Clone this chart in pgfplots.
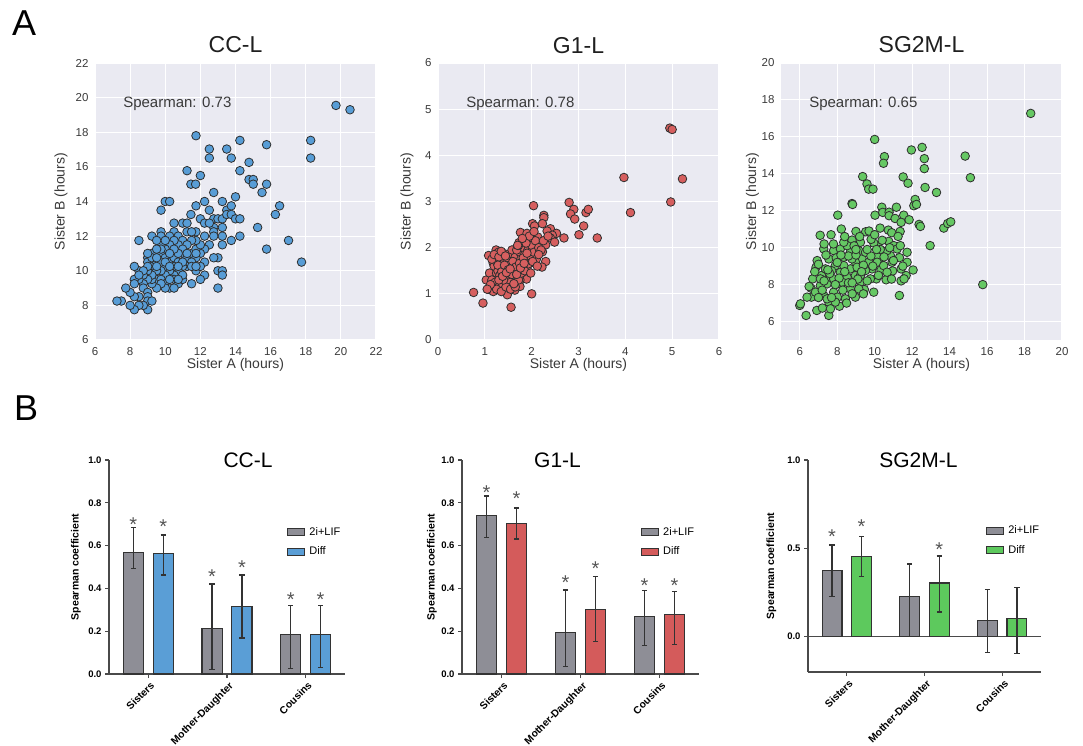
\documentclass[border=0pt]{standalone}
\usepackage{fontspec}
\setmainfont{Liberation Sans}
\usepackage{pgfplots}
\pgfplotsset{compat=1.18}

\definecolor{bgc}{HTML}{EAEAF2}
\definecolor{txc}{HTML}{3A3A3A}
\definecolor{edc}{HTML}{2E2E2E}
\definecolor{sblue}{HTML}{589DD6}
\definecolor{sred}{HTML}{D65F5F}
\definecolor{sgreen}{HTML}{66C864}
\definecolor{bgray}{HTML}{8E8E96}
\definecolor{bblue}{HTML}{5A9ED6}
\definecolor{bred}{HTML}{D45B5B}
\definecolor{bgreen}{HTML}{5DC95D}
\definecolor{bedge}{HTML}{333333}
\definecolor{axc}{HTML}{4A4A4A}
\definecolor{astc}{HTML}{555555}

\newcommand{\fsz}[1]{\fontsize{#1}{#1}\selectfont}

\pgfplotsset{
  sc/.style={scale only axis, width=281pt, height=277pt, anchor=south west,
    axis background/.style={fill=bgc},
    grid=major, major grid style={white, line width=1.1pt},
    axis line style={draw=none}, major tick length=0pt,
    tick label style={font=\fsz{11.5}, text=txc},
    /pgf/number format/assume math mode=true,
    xticklabel style={yshift=-4pt}, yticklabel style={xshift=-3pt},
    label style={font=\fsz{14}, text=txc},
    xlabel style={at={([yshift=-28pt]axis description cs:0.5,0)}, anchor=base},
    title style={at={([yshift=10pt]axis description cs:0.5,1)}, anchor=base, yshift=-6pt, font=\fsz{23}, text=black!88},
    xlabel={Sister A (hours)}, ylabel={Sister B (hours)},
  },
  scm/.style={only marks, mark=*, mark size=4.3pt,
    mark options={fill=#1, draw=edc, line width=0.8pt}},
  bc/.style={scale only axis, anchor=south west, xmin=-0.5, xmax=2.5,
    axis lines*=left, axis line style={line width=1.1pt, color=axc},
    tick style={line width=1.1pt, color=axc}, tick align=outside, major tick length=4pt,
    xtick={0,1,2}, xticklabels={Sisters,Mother-Daughter,Cousins},
    /pgf/number format/assume math mode=true,
    tick label style={font=\bfseries\fsz{9.5}},
    yticklabel style={/pgf/number format/.cd, fixed, fixed zerofill, precision=1},
    xticklabel style={rotate=45, anchor=north east, inner sep=1pt, font=\bfseries\fsz{10.3}, yshift=-2pt},
    ylabel={Spearman coefficient}, ylabel style={font=\bfseries\fsz{10.5}},
    legend style={draw=none, fill=none, font=\fsz{11}, anchor=north west,
      row sep=8pt, column sep=3pt, inner sep=0pt, nodes={inner sep=1pt}},
    legend cell align=left,
    clip=false,
  },
  br/.style={ybar, bar width=0.255, bar shift=0pt, fill=#1, draw=bedge, line width=1.1pt,
    legend image code/.code={\draw[##1] (0pt,-3.5pt) rectangle (17pt,3.5pt);},
    error bars/.cd, y dir=both, y explicit,
    error bar style={line width=1.2pt, color=bedge},
    error mark options={rotate=90, line width=1.2pt, color=bedge, mark size=2.6pt}},
  ast/.style={only marks, mark=none, forget plot, nodes near coords={*},
    nodes near coords align={anchor=base},
    nodes near coords style={anchor=base, yshift=-11.3pt, font=\fsz{20}, text=astc, inner sep=0pt}},
}

\begin{document}
\begin{tikzpicture}
\useasboundingbox (0pt,0pt) rectangle (1083pt,-746pt);

\node[anchor=base west, font=\fsz{36}, inner sep=0pt] at (12pt,-36pt) {A};
\node[anchor=base west, font=\fsz{36}, inner sep=0pt] at (14pt,-420pt) {B};

% ---------- A: scatter plots ----------
\begin{axis}[sc, at={(95pt,-340pt)}, title={CC-L},
  xmin=6, xmax=22, ymin=6, ymax=22, xtick={6,8,...,22}, ytick={6,8,...,22},
  ylabel style={at={([xshift=-34pt]axis description cs:0,0.5)}, anchor=center}]
\addplot[scm=sblue] coordinates {
(19.72,19.55)(20.52,19.30)(11.75,17.80)(12.51,17.03)(12.51,16.51)(13.50,17.03)(13.76,16.51)(14.25,17.53)
(14.77,16.26)(15.77,17.28)(18.28,17.53)(18.28,16.51)(11.24,15.78)(12.0,15.5)(11.46,15.0)(11.73,15.0)
(14.25,15.78)(14.77,15.27)(15.01,15.27)(15.01,15.0)(15.51,14.52)(15.77,15.0)(12.76,14.52)(14.0,14.27)
(10.0,14.0)(10.25,14.0)(9.76,13.5)(11.75,13.75)(12.24,14.0)(12.51,13.5)(13.25,14.0)(13.50,13.5)
(13.76,13.75)(11.46,13.25)(12.0,13.0)(12.24,12.75)(12.76,13.0)(13.0,13.0)(13.25,13.0)(13.5,13.25)
(13.76,13.25)(14.0,13.0)(14.25,13.0)(16.27,13.25)(16.51,13.75)(15.26,12.5)(17.02,11.75)(15.77,11.25)
(17.76,10.5)(14.25,12.0)(13.76,11.75)(13.25,11.5)(13.25,12.0)(13.25,12.5)(12.76,12.5)(12.51,12.75)
(12.76,12.25)(12.76,12.0)(13.0,10.75)(12.76,10.75)(13.0,10.0)(13.25,10.0)(13.25,9.75)(13.0,9.0)
(12.24,9.75)(12.0,9.5)(11.5,9.25)(12.51,11.5)(12.24,11.25)(12.24,10.5)(12.0,11.0)(12.24,12.0)
(11.75,12.25)(11.24,12.25)(10.99,12.75)(11.24,12.75)(10.5,12.75)(10.5,12.25)(10.25,12.0)(9.76,12.25)
(9.76,12.0)(9.24,12.0)(8.5,11.75)(10.74,12.0)(10.99,11.75)(10.74,11.5)(10.5,11.75)(10.25,11.5)
(10.0,11.25)(9.76,11.5)(9.51,11.75)(9.51,11.0)(9.24,11.0)(9.0,10.75)(9.0,10.5)(9.24,10.25)
(9.51,10.5)(9.76,11.0)(10.0,10.75)(10.25,10.5)(10.5,10.75)(10.74,10.5)(10.99,11.0)(11.24,10.75)
(11.5,11.0)(11.75,11.25)(11.75,10.75)(11.5,10.5)(11.24,10.25)(11.75,10.0)(11.5,10.25)(10.99,10.25)
(10.74,10.0)(10.5,9.75)(10.5,10.25)(10.25,10.0)(10.0,9.75)(10.0,10.25)(9.76,10.0)(9.51,10.0)
(9.51,9.5)(9.76,9.5)(10.0,9.25)(10.25,9.0)(10.0,9.0)(9.76,9.25)(9.51,9.0)(9.24,9.25)
(9.24,9.5)(9.24,9.75)(9.0,10.0)(9.0,9.5)(8.75,9.75)(8.75,9.25)(8.5,9.5)(8.5,10.0)
(8.24,10.25)(8.24,9.5)(8.24,9.25)(8.75,9.0)(9.0,8.75)(9.0,8.5)(9.0,8.25)(9.24,8.25)
(9.0,7.75)(8.75,8.0)(8.5,8.0)(8.5,8.5)(8.24,8.5)(8.24,7.75)(8.0,8.0)(8.0,8.75)
(7.75,9.0)(7.5,8.25)(7.25,8.25)(10.5,9.5)(10.74,9.25)(10.99,9.5)(10.99,9.75)(10.74,9.5)
(10.25,9.5)(10.5,9.0)(12.0,10.25)(12.0,11.5)(11.75,11.75)(11.5,11.75)(11.5,12.25)(11.24,11.5)
(10.99,11.25)(10.74,11.0)(10.5,11.25)(10.25,11.0)(10.0,11.75)(9.76,11.25)(9.51,11.25)(9.24,10.75)
(9.0,10.25)(8.75,10.0)(8.5,9.75)(9.76,10.5)(10.0,10.5)(10.25,10.25)(11.75,10.25)(11.75,11.0)
(11.24,11.0)(10.99,10.5)(10.74,10.25)(9.51,10.25)(9.51,10.75)(9.0,11.0)
};
\node[anchor=base west, font=\fsz{15}, text=txc, inner sep=0pt] at (axis description cs:0.1,0.84) {Spearman: 0.73};
\end{axis}

\begin{axis}[sc, at={(438pt,-340pt)}, title={G1-L},
  xmin=0, xmax=6, ymin=0, ymax=6, xtick={0,1,...,6}, ytick={0,1,...,6},
  ylabel style={at={([xshift=-31pt]axis description cs:0,0.5)}, anchor=center}]
\addplot[scm=sred] coordinates {
(4.95,4.59)(5.0,4.56)(3.97,3.52)(5.22,3.49)(4.97,2.99)(4.11,2.76)(2.80,2.98)(2.90,2.83)
(2.83,2.73)(2.92,2.62)(3.16,2.76)(3.21,2.83)(3.11,2.47)(3.01,2.28)(3.40,2.21)(2.69,2.21)
(2.04,2.91)(2.26,2.70)(2.26,2.65)(2.02,2.52)(2.06,2.47)(2.23,2.52)(2.40,2.41)(2.33,2.36)
(2.53,2.31)(2.44,2.27)(2.40,2.21)(2.49,2.12)(1.76,2.33)(1.90,2.31)(2.13,2.23)(2.03,2.16)
(1.90,2.10)(1.73,2.11)(2.10,2.02)(2.30,2.06)(2.23,1.91)(2.30,1.70)(2.22,1.58)(2.0,1.0)
(1.08,1.83)(1.24,1.95)(1.29,1.90)(0.76,1.03)(0.96,0.80)(1.56,0.71)(1.03,1.30)(1.07,1.10)
(1.48,0.98)(1.89,1.32)
(1.39,1.88)(1.32,1.70)(1.18,1.66)(1.10,1.45)(1.25,1.45)(1.39,1.52)(1.53,1.59)(1.46,1.30)
(1.60,1.23)(1.75,1.30)(1.67,1.52)(1.75,1.74)(1.89,1.81)(1.67,1.88)(1.82,1.95)(2.03,1.95)
(1.96,1.66)(1.89,1.52)(1.75,1.16)(1.39,1.16)(1.25,1.23)(1.14,1.08)(1.64,1.08)
(1.15,1.30)(1.20,1.60)(1.22,1.25)(1.25,1.70)(1.28,1.50)(1.30,1.15)(1.32,1.40)(1.35,1.65)
(1.38,1.20)(1.40,1.75)(1.42,1.50)(1.45,1.35)(1.47,1.60)(1.50,1.85)(1.52,1.45)(1.55,1.25)
(1.57,1.70)(1.60,1.55)(1.62,1.40)(1.65,1.80)(1.67,1.65)(1.70,1.50)(1.72,1.30)(1.75,1.90)
(1.77,1.75)(1.80,1.60)(1.82,2.00)(1.85,1.85)(1.87,1.70)(1.90,1.55)(1.92,1.95)(1.95,2.10)
(1.97,1.80)(2.00,2.05)(2.05,1.90)(2.08,2.15)(2.10,1.75)(2.15,2.00)(2.20,1.95)(1.18,1.05)
(1.25,1.10)(1.35,1.05)(1.45,1.15)(1.55,1.10)(1.65,1.15)(1.12,1.20)(1.05,1.10)(1.15,1.75)
(1.20,1.85)(1.30,1.80)(1.35,1.92)(1.40,1.30)(1.48,1.72)(1.58,1.95)(1.62,1.22)(1.68,1.95)
(1.72,2.05)(1.78,1.45)(1.85,1.50)(1.88,2.10)(1.93,1.65)(1.98,1.45)(2.02,1.70)(2.12,1.60)
(1.28,1.62)(1.36,1.48)(1.44,1.82)(1.52,1.62)(1.60,1.70)(1.66,1.58)(1.74,1.66)(1.82,1.78)
(1.90,1.88)(1.42,1.62)(1.50,1.52)(1.58,1.42)(1.68,1.42)(1.76,1.56)(1.84,1.66)(1.30,1.30)
(1.38,1.38)(1.46,1.46)(1.54,1.54)(2.15,1.85)(2.25,2.15)(2.35,2.25)(1.95,2.25)(2.05,2.35)
(1.80,2.20)(1.70,2.05)
};
\node[anchor=base west, font=\fsz{15}, text=txc, inner sep=0pt] at (axis description cs:0.1,0.84) {Spearman: 0.78};
\end{axis}

\begin{axis}[sc, at={(781pt,-340pt)}, title={SG2M-L},
  xmin=5, xmax=20, ymin=5, ymax=20, xtick={6,8,...,20}, ytick={6,8,...,20},
  ylabel style={at={([xshift=-28.5pt]axis description cs:0,0.5)}, anchor=center}]
\addplot[scm=sgreen] coordinates {
(18.33,17.27)(10.0,15.86)(11.96,15.29)(12.53,15.43)(10.52,14.93)(10.47,14.57)(12.65,14.82)(12.65,14.28)
(14.83,14.96)(15.11,13.79)(9.36,13.85)(9.59,13.45)(9.68,13.17)(9.91,13.17)(11.52,13.83)(11.78,13.49)
(12.69,13.26)(13.30,12.99)(8.79,12.39)(8.82,12.34)(12.16,12.61)(12.09,12.27)(12.23,12.34)(10.38,12.19)
(11.16,12.19)(8.03,11.76)(10.02,11.76)(10.43,11.91)(10.77,11.92)(10.77,11.73)(11.09,11.58)(11.55,11.76)
(11.84,11.51)(11.41,11.37)(12.37,11.26)(12.44,11.15)(13.69,11.06)(13.90,11.31)(14.06,11.40)(7.09,10.67)
(7.67,10.70)(8.22,11.01)(8.79,10.41)(9.0,10.88)(9.52,10.86)(10.29,11.06)(10.73,10.95)(10.91,10.81)
(11.36,10.88)(11.25,10.61)(10.75,10.34)(10.18,10.05)(9.95,10.25)(9.81,10.45)(12.96,10.11)(11.73,9.75)
(11.32,9.46)(10.84,9.57)(10.38,9.46)(10.13,9.57)(15.77,8.0)(12.05,8.79)(11.68,8.49)(11.41,8.20)
(11.57,8.31)(11.32,7.41)(10.61,8.26)(10.34,8.79)(10.96,8.74)(11.41,8.85)(9.95,7.59)(10.09,8.31)
(9.86,8.85)(6.0,6.87)(6.04,6.96)(6.34,6.33)(7.55,6.33)(8.12,6.83)(8.97,7.32)(6.91,6.60)
(7.21,6.73)(6.62,7.32)(6.60,7.81)(6.87,8.94)(6.69,8.31)(7.16,8.49)(7.46,8.04)(7.28,7.41)
(7.55,7.05)(7.81,7.59)(8.01,7.32)(8.0,8.04)(8.17,8.67)(7.90,9.03)(7.55,9.39)(7.81,9.84)
(8.17,9.93)(8.35,9.48)(8.70,9.75)(8.53,10.11)(9.15,9.84)(9.33,9.39)(8.97,9.21)(8.70,8.85)
(8.53,8.40)(8.97,8.49)(9.24,8.13)(9.45,7.73)(9.15,7.77)(8.70,7.77)(8.26,8.13)(9.51,8.76)
(9.68,9.21)(9.51,9.75)(9.24,10.29)(8.35,10.29)(7.28,9.93)(6.93,9.30)(7.37,8.85)(7.64,8.40)
(7.10,7.95)(6.84,7.59)(8.35,9.03)(8.79,9.39)(9.06,8.94)(9.24,8.49)(9.77,8.31)(10.13,9.21)
(10.48,9.03)(10.66,9.84)(11.02,10.11)(11.20,9.93)(10.93,9.21)(10.66,8.67)(11.37,10.11)(11.73,9.21)
(7.90,7.05)(7.64,6.69)(8.44,7.23)(7.81,8.31)(7.10,8.31)(7.46,7.23)(6.39,7.32)(8.60,9.55)
(9.00,9.60)(8.40,8.70)(7.70,8.75)(7.95,9.45)(9.40,9.05)(9.80,9.55)(10.30,9.90)(8.10,8.35)
(7.3,8.2)(7.6,8.6)(7.9,8.0)(8.3,7.7)(8.6,8.1)(8.8,7.5)(9.1,8.3)(9.3,8.7)
(9.6,8.2)(9.9,9.0)(10.2,8.5)(10.5,9.5)(10.8,10.0)(9.2,10.6)(8.9,10.1)(8.2,9.6)
(7.8,10.2)(7.4,9.6)(7.0,9.1)(6.8,8.7)(7.2,7.7)(7.7,7.3)(8.5,7.0)(9.0,9.9)
(9.7,10.9)(10.0,10.7)(10.4,10.4)(11.0,9.3)(11.5,9.0)(10.9,8.3)(9.4,7.5)(8.8,8.1)
(8.0,9.2)(7.5,8.8)(9.6,9.9)(10.1,9.9)(8.4,10.6)(7.3,10.2)(6.5,7.9)(7.0,7.3)
};
\node[anchor=base west, font=\fsz{15}, text=txc, inner sep=0pt] at (axis description cs:0.1,0.84) {Spearman: 0.65};
\end{axis}

% ---------- B: bar charts ----------
\begin{axis}[bc, at={(109pt,-674pt)}, width=236pt, height=214pt,
  ymin=0, ymax=1, ytick={0,0.2,0.4,0.6,0.8,1},
  ylabel style={at={([xshift=-33pt]axis description cs:0,0.5)}, anchor=center},
  legend style={at={(axis description cs:0.755,0.69)}}]
\addplot[br=bgray] coordinates {
  (-0.19,0.566) += (0,0.120) -= (0,0.074)
  (0.81,0.213) += (0,0.208) -= (0,0.191)
  (1.81,0.184) += (0,0.136) -= (0,0.159)};
\addlegendentry{2i+LIF}
\addplot[br=bblue] coordinates {
  (0.19,0.563) += (0,0.087) -= (0,0.100)
  (1.19,0.314) += (0,0.149) -= (0,0.146)
  (2.19,0.184) += (0,0.135) -= (0,0.154)};
\addlegendentry{Diff}
\addplot[ast] coordinates {(-0.19,0.720) (0.19,0.708) (0.81,0.478) (1.19,0.517) (1.81,0.369) (2.19,0.369)};
\node[anchor=base, font=\fsz{21}, inner sep=0pt] at (axis description cs:0.589,0.967) {CC-L};
\end{axis}

\begin{axis}[bc, at={(462pt,-674pt)}, width=237pt, height=214pt,
  ymin=0, ymax=1, ytick={0,0.2,0.4,0.6,0.8,1},
  ylabel style={at={([xshift=-30pt]axis description cs:0,0.5)}, anchor=center},
  legend style={at={(axis description cs:0.755,0.69)}}]
\addplot[br=bgray] coordinates {
  (-0.19,0.739) += (0,0.093) -= (0,0.100)
  (0.81,0.194) += (0,0.199) -= (0,0.160)
  (1.81,0.269) += (0,0.120) -= (0,0.137)};
\addlegendentry{2i+LIF}
\addplot[br=bred] coordinates {
  (0.19,0.705) += (0,0.071) -= (0,0.074)
  (1.19,0.300) += (0,0.156) -= (0,0.149)
  (2.19,0.277) += (0,0.107) -= (0,0.139)};
\addlegendentry{Diff}
\addplot[ast] coordinates {(-0.19,0.868) (0.19,0.840) (0.81,0.449) (1.19,0.513) (1.81,0.432) (2.19,0.432)};
\node[anchor=base, font=\fsz{21}, inner sep=0pt] at (axis description cs:0.403,0.967) {G1-L};
\end{axis}

\begin{axis}[bc, at={(808pt,-672pt)}, width=233pt, height=212pt,
  ymin=-0.2, ymax=1, ytick={0,0.5,1},
  extra y ticks={0}, extra y tick labels={},
  extra y tick style={grid=major, major grid style={color=axc, line width=1.1pt}, major tick length=0pt},
  ylabel style={at={([xshift=-36.5pt]axis description cs:0,0.5)}, anchor=center},
  legend style={at={(axis description cs:0.764,0.695)}}]
\addplot[br=bgray] coordinates {
  (-0.19,0.375) += (0,0.144) -= (0,0.149)
  (0.81,0.225) += (0,0.186) -= (0,0.225)
  (1.81,0.094) += (0,0.174) -= (0,0.185)};
\addlegendentry{2i+LIF}
\addplot[br=bgreen] coordinates {
  (0.19,0.453) += (0,0.113) -= (0,0.111)
  (1.19,0.304) += (0,0.153) -= (0,0.164)
  (2.19,0.102) += (0,0.177) -= (0,0.198)};
\addlegendentry{Diff}
\addplot[ast] coordinates {(-0.19,0.594) (0.19,0.647) (1.19,0.519)};
\node[anchor=base, font=\fsz{21}, inner sep=0pt] at (axis description cs:0.474,0.967) {SG2M-L};
\end{axis}

\end{tikzpicture}
\end{document}
